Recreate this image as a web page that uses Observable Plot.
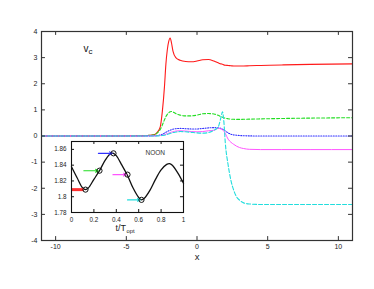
<!DOCTYPE html>
<html>
<head>
<meta charset="utf-8">
<script src="https://cdn.jsdelivr.net/npm/d3@7"></script>
<script src="https://cdn.jsdelivr.net/npm/@observablehq/plot@0.6"></script>
<style>
  html, body { margin: 0; padding: 0; background: white; }
  #wrap { position: relative; width: 374px; height: 289px; }
  #wrap svg { position: absolute; left: 0; top: 0; }
</style>
</head>
<body>
<div id="wrap"></div>
<script>
// ---- main panel data ----
const xs      = [-11, -6, -4, -3.5, -3, -2.8, -2.6, -2.45, -2.3, -2.2, -2.1, -2.0, -1.9, -1.8, -1.7, -1.5, -1.2, -0.8, -0.4, 0, 0.4, 0.8, 1.2, 1.5, 1.7, 1.8, 1.9, 2.0, 2.2, 2.4, 2.6, 2.8, 3.0, 3.3, 3.7, 4.5, 6, 8, 11];
const red     = [0, 0, 0.01, 0.02, 0.06, 0.15, 0.35, 0.95, 1.9, 2.75, 3.3, 3.62, 3.75, 3.55, 3.25, 3.0, 2.9, 2.85, 2.84, 2.87, 2.92, 2.93, 2.87, 2.8, 2.76, 2.75, 2.72, 2.71, 2.7, 2.69, 2.68, 2.68, 2.68, 2.68, 2.69, 2.7, 2.72, 2.74, 2.76];
const green   = [0, 0, 0.01, 0.02, 0.05, 0.12, 0.25, 0.42, 0.62, 0.74, 0.83, 0.89, 0.93, 0.94, 0.92, 0.86, 0.8, 0.77, 0.77, 0.8, 0.85, 0.86, 0.84, 0.79, 0.74, 0.72, 0.7, 0.68, 0.66, 0.645, 0.64, 0.635, 0.635, 0.64, 0.645, 0.655, 0.67, 0.685, 0.7];
const blue    = [0, 0, 0, 0.005, 0.01, 0.02, 0.04, 0.07, 0.11, 0.14, 0.17, 0.2, 0.22, 0.24, 0.26, 0.28, 0.29, 0.28, 0.27, 0.27, 0.29, 0.31, 0.32, 0.31, 0.29, 0.26, 0.23, 0.19, 0.12, 0.07, 0.04, 0.03, 0.02, 0.01, 0.005, 0, 0, 0, 0];
const magenta = [0, 0, 0, 0, 0.005, 0.01, 0.02, 0.03, 0.05, 0.07, 0.09, 0.11, 0.13, 0.15, 0.16, 0.19, 0.2, 0.19, 0.17, 0.16, 0.17, 0.2, 0.22, 0.29, 0.27, 0.24, 0.19, 0.1, -0.12, -0.24, -0.32, -0.39, -0.44, -0.48, -0.51, -0.52, -0.52, -0.52, -0.52];
const cyan    = [0, 0, 0, 0, 0, 0.005, 0.01, 0.02, 0.03, 0.05, 0.06, 0.08, 0.1, 0.11, 0.13, 0.15, 0.17, 0.16, 0.14, 0.12, 0.11, 0.13, 0.22, 0.35, 0.72, 0.93, 0.55, -0.25, -1.1, -1.7, -2.08, -2.33, -2.45, -2.56, -2.6, -2.62, -2.62, -2.62, -2.62];
const xTicks = [-10, -5, 0, 5, 10];
const yTicks = [-4, -3, -2, -1, 0, 1, 2, 3, 4];

// ---- inset data ----
const tVals = [0, 0.05, 0.1, 0.125, 0.15, 0.2, 0.25, 0.3, 0.35, 0.375, 0.4, 0.45, 0.5, 0.55, 0.6, 0.625, 0.65, 0.7, 0.75, 0.8, 0.85, 0.875, 0.9, 0.95, 1.0];
const fVals = [1.838, 1.824, 1.811, 1.809, 1.811, 1.822, 1.833, 1.846, 1.855, 1.855, 1.852, 1.840, 1.827, 1.811, 1.799, 1.796, 1.798, 1.808, 1.822, 1.834, 1.841, 1.842, 1.840, 1.830, 1.817];
const markT   = [0.125, 0.25, 0.375, 0.5, 0.625];
const markF   = [1.809, 1.833, 1.855, 1.828, 1.796];
const arrowT0 = [0.0, 0.11, 0.24, 0.37, 0.50];
const tTicks = [0, 0.2, 0.4, 0.6, 0.8, 1];
const fTicks = [1.78, 1.8, 1.82, 1.84, 1.86];

const seriesStyles = [
  {vals: red,     color: "#ff1a1a", dash: null,  w: 1.1},
  {vals: green,   color: "#22dd22", dash: "3,2", w: 1.1},
  {vals: blue,    color: "#3030ff", dash: "1,1.5", w: 1.1},
  {vals: magenta, color: "#ff55ff", dash: null,  w: 1.0},
  {vals: cyan,    color: "#22dddd", dash: "4,2", w: 1.1}
];
const font = "'Liberation Sans', Arial, Helvetica, sans-serif";

const lineMarks = seriesStyles.map(s =>
  Plot.line(xs.map((x, i) => ({x, y: s.vals[i]})), {
    x: "x", y: "y", stroke: s.color, strokeWidth: s.w,
    strokeDasharray: s.dash, curve: "monotone-x"
  })
);

const main = Plot.plot({
  width: 374, height: 289,
  marginLeft: 41, marginRight: 22, marginTop: 31, marginBottom: 49,
  x: {domain: [-11, 11]},
  y: {domain: [-4, 4]},
  style: {fontFamily: font, fontSize: "7px", background: "white", color: "#222"},
  marks: [
    ...lineMarks,
    Plot.ruleX(xTicks, {x: d => d, y1: -4, y2: -3.85, stroke: "#333"}),
    Plot.ruleX(xTicks, {x: d => d, y1: 4, y2: 3.85, stroke: "#333"}),
    Plot.ruleY(yTicks, {y: d => d, x1: -11, x2: -10.72, stroke: "#333"}),
    Plot.ruleY(yTicks, {y: d => d, x1: 11, x2: 10.72, stroke: "#333"}),
    Plot.frame({stroke: "#333", strokeWidth: 1.2}),
    Plot.axisX({ticks: xTicks, tickSize: 0, tickPadding: 4, tickFormat: d => String(d), label: null}),
    Plot.axisY({ticks: yTicks, tickSize: 0, tickPadding: 4, tickFormat: d => String(d), label: null}),
    Plot.text(["x"], {frameAnchor: "bottom", dy: 19, fontSize: 9.5, fill: "#222"}),
    Plot.text(["v"], {frameAnchor: "top-left", dx: 42, dy: 13.5, textAnchor: "start", fontSize: 10, fill: "#111"}),
    Plot.text(["c"], {frameAnchor: "top-left", dx: 47, dy: 17, textAnchor: "start", fontSize: 8, fill: "#111"})
  ]
});

const arrowData = markT.map((t, i) => ({
  t0: arrowT0[i], t1: t - 0.012, f: markF[i],
  color: seriesStyles[i].color, dash: seriesStyles[i].dash
}));

const inset = Plot.plot({
  width: 374, height: 289,
  marginLeft: 71, marginRight: 191, marginTop: 141, marginBottom: 77,
  x: {domain: [0, 1]},
  y: {domain: [1.78, 1.87]},
  style: {fontFamily: font, fontSize: "6.3px", background: "transparent", color: "#222", overflow: "visible"},
  marks: [
    Plot.frame({fill: "white", stroke: null}),
    Plot.line(tVals.map((t, i) => ({t, f: fVals[i]})), {x: "t", y: "f", stroke: "#111", strokeWidth: 1.3, curve: "catmull-rom"}),
    Plot.ruleY([arrowData[0]], {y: "f", x1: "t0", x2: "t1", stroke: "#ff3030", strokeWidth: 3}),
    Plot.arrow(arrowData.slice(1), {x1: "t0", x2: "t1", y1: "f", y2: "f", stroke: "color", strokeWidth: 1.1, strokeDasharray: d => d.dash, headLength: 4}),
    Plot.dot(markT.map((t, i) => ({t, f: markF[i]})), {x: "t", y: "f", r: 2.6, stroke: "#111", strokeWidth: 1, fill: "none"}),
    Plot.ruleX(tTicks, {x: d => d, y1: 1.78, y2: 1.7838, stroke: "#111"}),
    Plot.ruleX(tTicks, {x: d => d, y1: 1.87, y2: 1.8662, stroke: "#111"}),
    Plot.ruleY(fTicks, {y: d => d, x1: 0, x2: 0.027, stroke: "#111"}),
    Plot.ruleY(fTicks, {y: d => d, x1: 1, x2: 0.973, stroke: "#111"}),
    Plot.frame({stroke: "#111", strokeWidth: 1.1}),
    Plot.axisX({ticks: tTicks, tickSize: 0, tickPadding: 5, tickFormat: d => String(d), label: null}),
    Plot.axisY({ticks: fTicks, tickSize: 0, tickPadding: 5, tickFormat: d => String(d), label: null}),
    Plot.text(["NOON"], {frameAnchor: "top-left", dx: 74, dy: 8.5, fontSize: 6.5, fill: "#333"}),
    Plot.text(["t/T"], {frameAnchor: "bottom", dx: -1.5, dy: 18, textAnchor: "end", fontSize: 9, fill: "#222"}),
    Plot.text(["opt"], {frameAnchor: "bottom", dx: -1, dy: 20.5, textAnchor: "start", fontSize: 5.8, fill: "#222"})
  ]
});

const wrap = document.getElementById("wrap");
wrap.appendChild(main);
wrap.appendChild(inset);
</script>
</body>
</html>
